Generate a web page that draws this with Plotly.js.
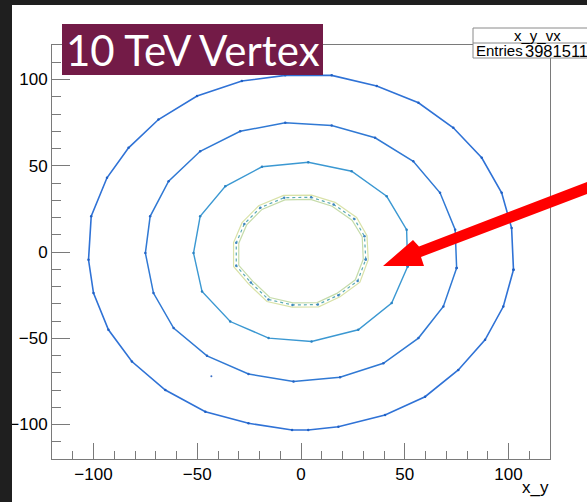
<!DOCTYPE html>
<html>
<head>
<meta charset="utf-8">
<script src="https://cdn.plot.ly/plotly-3.0.1.min.js"></script>
<style>
  html, body { margin: 0; padding: 0; overflow: hidden; background: #fff; }
  #chart { width: 587px; height: 502px; }
</style>
</head>
<body>
<div id="chart"></div>
<script>
// Vertex positions (x_y projection) for the four detector layers, in mm.
// Outermost layer
const layer4X = [102.4, 101.5, 96.7, 87.1, 73.4, 56.6, 36.5, 14.8, -7.6, -28.5, -50.1, -68.7, -83.1, -93.5, -101.1, -102.4, -100.0, -92.8, -81.5, -65.4, -46.1, -25.3, -4.3, 3.5, 18.0, 40.5, 59.8, 75.8, 88.7, 97.5];
const layer4Y = [-10.3, 13.9, 34.3, 54.6, 72.0, 86.5, 96.2, 102.4, 102.4, 99.1, 90.4, 76.8, 60.4, 43.0, 20.7, -4.5, -23.8, -45.1, -63.5, -80.0, -92.6, -99.3, -103.2, -103.2, -101.3, -94.5, -83.9, -68.4, -50.9, -31.6];
// Third layer
const layer3X = [75.0, 74.3, 67.0, 54.1, 35.7, 14.8, -7.6, -29.3, -48.6, -63.8, -72.7, -75.0, -71.1, -61.4, -45.3, -25.3, -3.6, 18.8, 39.7, 56.6, 68.6];
const layer3Y = [-9.3, 12.9, 34.3, 52.6, 66.2, 73.3, 74.9, 70.0, 58.4, 41.0, 20.7, -0.6, -23.8, -44.1, -60.2, -70.7, -75.1, -72.6, -64.5, -49.9, -31.6];
// Second layer
const layer2X = [51.4, 50.9, 41.3, 24.4, 3.5, -18.8, -36.5, -48.6, -51.8, -47.7, -34.1, -15.6, 5.1, 27.6, 43.7];
const layer2Y = [-8.4, 12.9, 32.3, 46.8, 52.0, 49.4, 38.1, 20.7, -0.6, -22.9, -40.3, -49.9, -51.9, -45.1, -29.6];
// Innermost layer: outer edge, centre and inner edge of the band
const layer1OuterX = [32.4, 31.8, 26.8, 16.4, 5.1, -8.4, -20.4, -28.4, -32.5, -32.5, -25.3, -16.4, -4.3, 8.5, 18.8, 28.4];
const layer1OuterY = [-4.5, 9.5, 20.0, 28.8, 33.0, 32.8, 26.8, 17.0, 5.5, -8.4, -18.5, -28.7, -32.0, -31.8, -26.0, -17.5];
const layer1MidX = [31.2, 30.6, 25.7, 15.7, 4.9, -8.1, -19.6, -27.3, -31.2, -31.2, -24.2, -15.7, -4.1, 8.1, 18.0, 27.3];
const layer1MidY = [-4.3, 9.1, 19.2, 27.6, 31.7, 31.5, 25.7, 16.3, 5.3, -8.0, -17.7, -27.5, -30.7, -30.5, -25.0, -16.8];
const layer1InnerX = [30.0, 29.5, 24.6, 15.0, 4.6, -7.8, -18.8, -26.2, -30.0, -30.0, -23.2, -15.0, -3.9, 7.8, 17.3, 26.2];
const layer1InnerY = [-4.2, 8.8, 18.4, 26.5, 30.5, 30.2, 24.7, 15.7, 5.1, -7.7, -17.0, -26.4, -29.5, -29.3, -24.0, -16.1];
// Isolated vertex
const strayX = [-43.2];
const strayY = [-72.0];

const histName = "x_y_vx";
const entries = "3981511";
const plotTitle = "10 TeV Vertex";
const xTitle = "x_y";
const xRange = [-120, 120];
const yRange = [-120, 120];

// closes a polygon by repeating its first vertex
function closed(a) { return a.concat([a[0]]); }

function ring(xs, ys, color, width, mcolor, dash) {
  const t = {
    type: 'scatter', mode: mcolor ? 'lines+markers' : 'lines',
    x: closed(xs), y: closed(ys),
    line: { color: color, width: width, dash: dash || 'solid' },
    hoverinfo: 'skip', showlegend: false
  };
  if (mcolor) t.marker = { size: 2.5, color: mcolor };
  return t;
}

const traces = [
  ring(layer4X, layer4Y, '#2f72d6', 1.6, '#1f5fc4'),
  ring(layer3X, layer3Y, '#3079d4', 1.5, '#2565c6'),
  ring(layer2X, layer2Y, '#3b98d2', 1.4, '#2a83c4'),
  ring(layer1OuterX, layer1OuterY, '#d9e2a8', 1.2),
  ring(layer1InnerX, layer1InnerY, '#c6dcaa', 1.2),
  ring(layer1MidX, layer1MidY, '#5aaab4', 1.2, '#3f86bf', 'dot'),
  { type: 'scatter', mode: 'markers', x: strayX, y: strayY,
    marker: { size: 2, color: '#3b6fc6' }, hoverinfo: 'skip', showlegend: false }
];

// page geometry in pixels
const W = 587, H = 502, L = 52, R = 37, T = 45, B = 43;
const PW = W - L - R, PH = H - T - B;
const px = v => (v - L) / PW;       // pixel x -> paper x
const py = v => (H - B - v) / PH;   // pixel y -> paper y

function rect(x0, y0, x1, y1, fill, line, lw) {
  return { type: 'rect', xref: 'paper', yref: 'paper',
    x0: px(x0), x1: px(x1), y0: py(y1), y1: py(y0),
    fillcolor: fill, line: { color: line || fill, width: lw || 0 }, layer: 'above' };
}

// red pointer arrow as a filled polygon
const arrowPts = [[383, 266], [413, 240], [419, 246.5], [592, 180], [592, 192], [421, 257], [424, 266]];
const arrowPath = 'M ' + arrowPts.map(p => px(p[0]) + ',' + py(p[1])).join(' L ') + ' Z';

const shapes = [
  rect(-5, -5, 12, 510, '#1f1f1f'),
  rect(-5, -5, 600, 5, '#1f1f1f'),
  rect(62, 24, 323, 75, '#731b47'),
  rect(473, 28, 600, 58, '#ffffff', '#8a8a8a', 1),
  { type: 'line', xref: 'paper', yref: 'paper', x0: px(473), x1: px(600), y0: py(43), y1: py(43),
    line: { color: '#8a8a8a', width: 1 }, layer: 'above' },
  { type: 'path', xref: 'paper', yref: 'paper', path: arrowPath,
    fillcolor: '#ff0000', line: { color: '#ff0000', width: 0 }, layer: 'above' }
];

const sans = 'Liberation Sans, Arial, Helvetica, sans-serif';
const annotations = [
  { xref: 'paper', yref: 'paper', x: px(64), y: py(50), xanchor: 'left', yanchor: 'middle',
    text: plotTitle, showarrow: false, font: { family: 'Lato, sans-serif', size: 42, color: '#ffffff' } },
  { xref: 'paper', yref: 'paper', x: px(537), y: py(36), xanchor: 'center', yanchor: 'middle',
    text: histName, showarrow: false, font: { family: sans, size: 15, color: '#000' } },
  { xref: 'paper', yref: 'paper', x: px(474), y: py(51), xanchor: 'left', yanchor: 'middle',
    text: 'Entries', showarrow: false, font: { family: sans, size: 15, color: '#000' } },
  { xref: 'paper', yref: 'paper', x: px(523), y: py(51), xanchor: 'left', yanchor: 'middle',
    text: entries, showarrow: false, font: { family: sans, size: 16.5, color: '#000' } },
  { xref: 'paper', yref: 'paper', x: px(551), y: py(487), xanchor: 'right', yanchor: 'middle',
    text: xTitle, showarrow: false, font: { family: sans, size: 17, color: '#000' } }
];

const axisCommon = {
  showgrid: false, zeroline: false, showline: true, mirror: true,
  linecolor: '#7a7a7a', linewidth: 1,
  ticks: 'inside', tickcolor: '#7a7a7a', tickwidth: 1,
  tickmode: 'linear', tick0: 0, dtick: 50,
  tickfont: { family: sans, size: 17, color: '#000' },
  fixedrange: true
};

const layout = {
  width: W, height: H,
  margin: { l: L, r: R, t: T, b: B, pad: 0 },
  paper_bgcolor: '#ffffff', plot_bgcolor: '#ffffff',
  showlegend: false,
  xaxis: Object.assign({}, axisCommon, {
    range: xRange, ticklen: 16,
    minor: { dtick: 10, tick0: 0, ticks: 'inside', ticklen: 8, tickcolor: '#7a7a7a', showgrid: false }
  }),
  yaxis: Object.assign({}, axisCommon, {
    range: yRange, ticklen: 18,
    minor: { dtick: 10, tick0: 0, ticks: 'inside', ticklen: 9, tickcolor: '#7a7a7a', showgrid: false }
  }),
  shapes: shapes,
  annotations: annotations
};

Plotly.newPlot('chart', traces, layout, { staticPlot: true, displayModeBar: false });
</script>
</body>
</html>
